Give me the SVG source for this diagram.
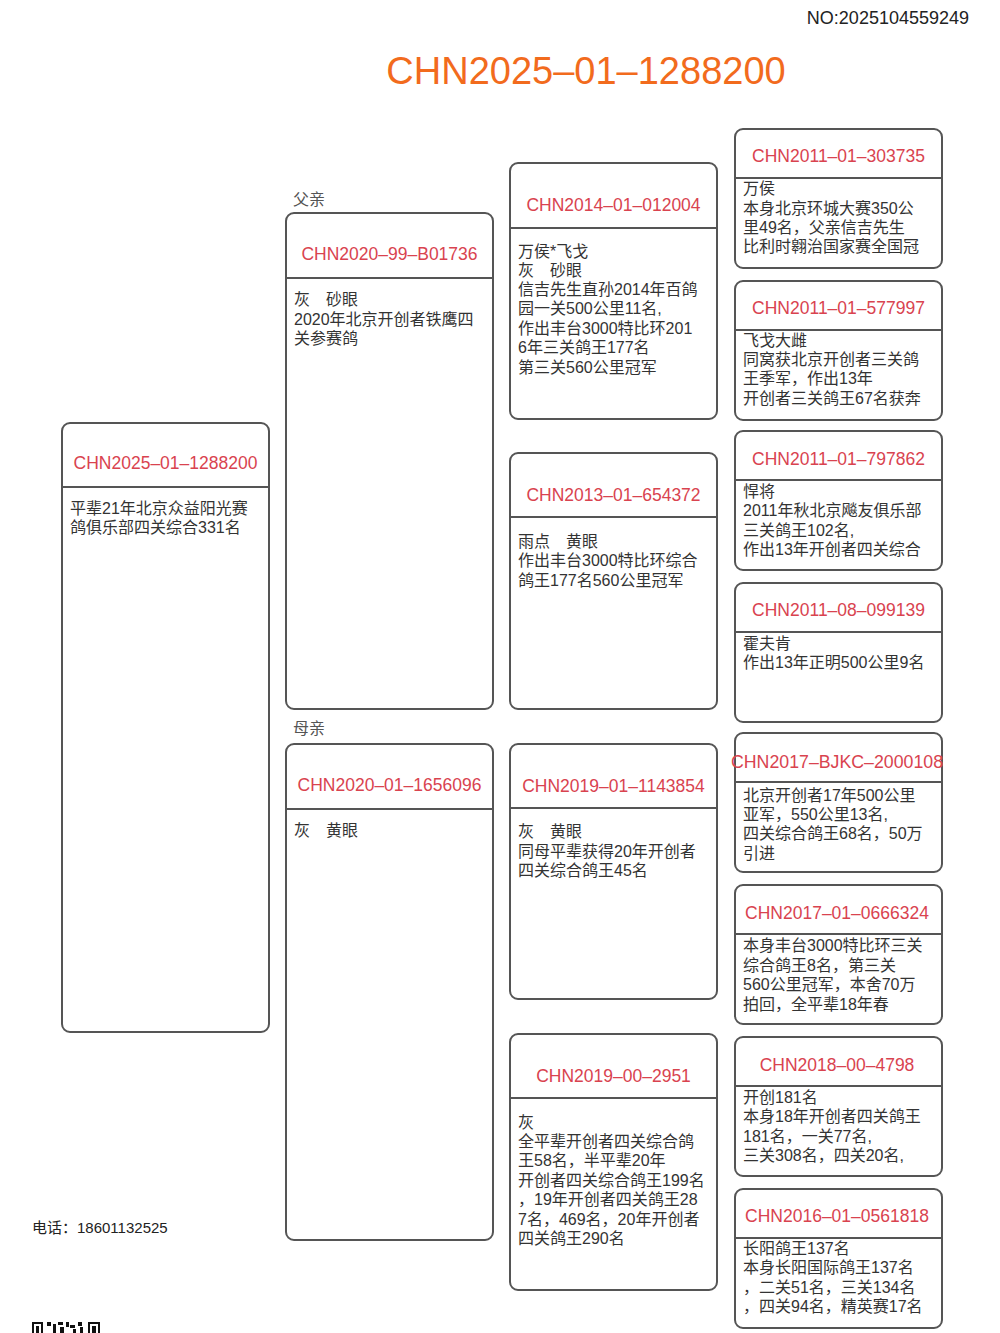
<svg xmlns="http://www.w3.org/2000/svg" width="1000" height="1333" viewBox="0 0 1000 1333">
<style>
text{font-family:"Liberation Sans","Noto Sans CJK SC",sans-serif;}
.box{fill:#fff;stroke:#555;stroke-width:2;}
.div{stroke:#555;stroke-width:2;}
.hd{font-size:17.5px;fill:#d9434f;text-anchor:middle;}
.bd{font-size:16px;fill:#333;}
.lbl{font-size:16px;fill:#555;}
</style>
<rect width="1000" height="1333" fill="#fff"/>
<text x="969" y="24" font-size="18" fill="#222" text-anchor="end">NO:2025104559249</text>
<text x="586" y="84" font-size="38" fill="#f26b1d" text-anchor="middle">CHN2025–01–1288200</text>
<text class="lbl" x="293" y="205">父亲</text>
<text class="lbl" x="293" y="734">母亲</text>
<g id="connectors"></g>

<g id="n1">
<rect class="box" x="62" y="423" width="207" height="609" rx="8"/>
<line class="div" x1="62" y1="487" x2="269" y2="487"/>
<text class="hd" x="165.5" y="469">CHN2025–01–1288200</text>
<text class="bd" x="70" y="514">平辈21年北京众益阳光赛</text>
<text class="bd" x="70" y="533">鸽俱乐部四关综合331名</text>
</g>

<g id="n2">
<rect class="box" x="286" y="213" width="207" height="496" rx="8"/>
<line class="div" x1="286" y1="278" x2="493" y2="278"/>
<text class="hd" x="389.5" y="260">CHN2020–99–B01736</text>
<text class="bd" x="294" y="305">灰　砂眼</text>
<text class="bd" x="294" y="325">2020年北京开创者铁鹰四</text>
<text class="bd" x="294" y="344">关参赛鸽</text>
</g>

<g id="n3">
<rect class="box" x="286" y="744" width="207" height="496" rx="8"/>
<line class="div" x1="286" y1="809" x2="493" y2="809"/>
<text class="hd" x="389.5" y="791">CHN2020–01–1656096</text>
<text class="bd" x="294" y="836">灰　黄眼</text>
</g>

<g id="n4">
<rect class="box" x="510" y="163" width="207" height="256" rx="8"/>
<line class="div" x1="510" y1="228" x2="717" y2="228"/>
<text class="hd" x="613.5" y="211">CHN2014–01–012004</text>
<text class="bd" x="518" y="257">万侯*飞戈</text>
<text class="bd" x="518" y="276">灰　砂眼</text>
<text class="bd" x="518" y="295">信吉先生直孙2014年百鸽</text>
<text class="bd" x="518" y="314">园一关500公里11名,</text>
<text class="bd" x="518" y="334">作出丰台3000特比环201</text>
<text class="bd" x="518" y="353">6年三关鸽王177名</text>
<text class="bd" x="518" y="373">第三关560公里冠军</text>
</g>

<g id="n5">
<rect class="box" x="510" y="453" width="207" height="256" rx="8"/>
<line class="div" x1="510" y1="517" x2="717" y2="517"/>
<text class="hd" x="613.5" y="501">CHN2013–01–654372</text>
<text class="bd" x="518" y="547">雨点　黄眼</text>
<text class="bd" x="518" y="566">作出丰台3000特比环综合</text>
<text class="bd" x="518" y="586">鸽王177名560公里冠军</text>
</g>

<g id="n6">
<rect class="box" x="510" y="744" width="207" height="255" rx="8"/>
<line class="div" x1="510" y1="808" x2="717" y2="808"/>
<text class="hd" x="613.5" y="792">CHN2019–01–1143854</text>
<text class="bd" x="518" y="837">灰　黄眼</text>
<text class="bd" x="518" y="857">同母平辈获得20年开创者</text>
<text class="bd" x="518" y="876">四关综合鸽王45名</text>
</g>

<g id="n7">
<rect class="box" x="510" y="1034" width="207" height="256" rx="8"/>
<line class="div" x1="510" y1="1098" x2="717" y2="1098"/>
<text class="hd" x="613.5" y="1082">CHN2019–00–2951</text>
<text class="bd" x="518" y="1128">灰</text>
<text class="bd" x="518" y="1147">全平辈开创者四关综合鸽</text>
<text class="bd" x="518" y="1166">王58名，半平辈20年</text>
<text class="bd" x="518" y="1186">开创者四关综合鸽王199名</text>
<text class="bd" x="518" y="1205">，19年开创者四关鸽王28</text>
<text class="bd" x="518" y="1225">7名，469名，20年开创者</text>
<text class="bd" x="518" y="1244">四关鸽王290名</text>
</g>

<g id="n8">
<rect class="box" x="735" y="129" width="207" height="139" rx="8"/>
<line class="div" x1="735" y1="178" x2="942" y2="178"/>
<text class="hd" x="838.5" y="162">CHN2011–01–303735</text>
<text class="bd" x="743" y="194">万侯</text>
<text class="bd" x="743" y="214">本身北京环城大赛350公</text>
<text class="bd" x="743" y="233">里49名，父亲信吉先生</text>
<text class="bd" x="743" y="252">比利时翱治国家赛全国冠</text>
</g>

<g id="n9">
<rect class="box" x="735" y="281" width="207" height="139" rx="8"/>
<line class="div" x1="735" y1="330" x2="942" y2="330"/>
<text class="hd" x="838.5" y="314">CHN2011–01–577997</text>
<text class="bd" x="743" y="346">飞戈大雌</text>
<text class="bd" x="743" y="365">同窝获北京开创者三关鸽</text>
<text class="bd" x="743" y="384">王季军，作出13年</text>
<text class="bd" x="743" y="404">开创者三关鸽王67名获奔</text>
</g>

<g id="n10">
<rect class="box" x="735" y="431" width="207" height="139" rx="8"/>
<line class="div" x1="735" y1="480" x2="942" y2="480"/>
<text class="hd" x="838.5" y="465">CHN2011–01–797862</text>
<text class="bd" x="743" y="497">悍将</text>
<text class="bd" x="743" y="516">2011年秋北京飚友俱乐部</text>
<text class="bd" x="743" y="536">三关鸽王102名,</text>
<text class="bd" x="743" y="555">作出13年开创者四关综合</text>
</g>

<g id="n11">
<rect class="box" x="735" y="583" width="207" height="139" rx="8"/>
<line class="div" x1="735" y1="632" x2="942" y2="632"/>
<text class="hd" x="838.5" y="616">CHN2011–08–099139</text>
<text class="bd" x="743" y="649">霍夫肯</text>
<text class="bd" x="743" y="668">作出13年正明500公里9名</text>
</g>

<g id="n12">
<rect class="box" x="735" y="733" width="207" height="139" rx="8"/>
<line class="div" x1="735" y1="782" x2="942" y2="782"/>
<text class="hd" x="837" y="768" textLength="212" lengthAdjust="spacingAndGlyphs">CHN2017–BJKC–2000108</text>
<text class="bd" x="743" y="801">北京开创者17年500公里</text>
<text class="bd" x="743" y="820">亚军，550公里13名,</text>
<text class="bd" x="743" y="839">四关综合鸽王68名，50万</text>
<text class="bd" x="743" y="859">引进</text>
</g>

<g id="n13">
<rect class="box" x="735" y="885" width="207" height="139" rx="8"/>
<line class="div" x1="735" y1="934" x2="942" y2="934"/>
<text class="hd" x="837" y="919">CHN2017–01–0666324</text>
<text class="bd" x="743" y="951">本身丰台3000特比环三关</text>
<text class="bd" x="743" y="971">综合鸽王8名，第三关</text>
<text class="bd" x="743" y="990">560公里冠军，本舍70万</text>
<text class="bd" x="743" y="1010">拍回，全平辈18年春</text>
</g>

<g id="n14">
<rect class="box" x="735" y="1037" width="207" height="139" rx="8"/>
<line class="div" x1="735" y1="1086" x2="942" y2="1086"/>
<text class="hd" x="837" y="1071">CHN2018–00–4798</text>
<text class="bd" x="743" y="1103">开创181名</text>
<text class="bd" x="743" y="1122">本身18年开创者四关鸽王</text>
<text class="bd" x="743" y="1142">181名，一关77名,</text>
<text class="bd" x="743" y="1161">三关308名，四关20名,</text>
</g>

<g id="n15">
<rect class="box" x="735" y="1189" width="207" height="139" rx="8"/>
<line class="div" x1="735" y1="1238" x2="942" y2="1238"/>
<text class="hd" x="837" y="1222">CHN2016–01–0561818</text>
<text class="bd" x="743" y="1254">长阳鸽王137名</text>
<text class="bd" x="743" y="1273">本身长阳国际鸽王137名</text>
<text class="bd" x="743" y="1293">，二关51名，三关134名</text>
<text class="bd" x="743" y="1312">，四关94名，精英赛17名</text>
</g>

<text x="32" y="1233" font-size="15" fill="#222">电话：18601132525</text>
<g id="qr" fill="#111">
<rect x="32" y="1322" width="11" height="2"/><rect x="32" y="1322" width="2" height="11"/><rect x="41" y="1322" width="2" height="11"/><rect x="36" y="1326" width="3" height="7"/>
<rect x="47" y="1322" width="4" height="4"/><rect x="53" y="1324" width="3" height="9"/><rect x="58" y="1322" width="5" height="3"/><rect x="60" y="1327" width="4" height="6"/>
<rect x="66" y="1322" width="3" height="5"/><rect x="70" y="1325" width="5" height="3"/><rect x="73" y="1329" width="3" height="4"/><rect x="78" y="1322" width="4" height="4"/><rect x="80" y="1327" width="3" height="6"/>
<rect x="88" y="1322" width="12" height="2"/><rect x="88" y="1322" width="2" height="11"/><rect x="98" y="1322" width="2" height="11"/><rect x="92" y="1326" width="4" height="7"/>
</g>
</svg>
